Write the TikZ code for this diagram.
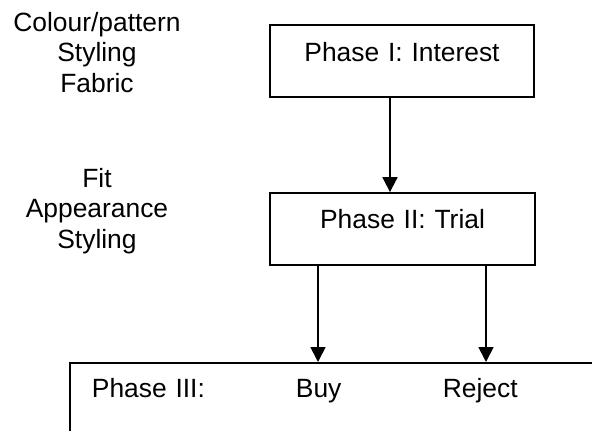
\documentclass[tikz,border=0pt]{standalone}
\usepackage{fontspec}
\setmainfont{Liberation Sans}
\usetikzlibrary{arrows.meta}
\begin{document}
\begin{tikzpicture}[x=1pt,y=-1pt,
  every node/.style={font=\fontsize{26.4}{30.5}\selectfont, inner sep=0pt},
  phasebox/.style={draw, line width=1.8pt, text width=#1, align=center},
  factors/.style={align=center, anchor=north},
  arr/.style={line width=1.8pt, -{Triangle[length=15pt,width=15pt]}}]
\useasboundingbox (0,0) rectangle (592,431);
\clip (0,0) rectangle (592,431);
% phase boxes
\node[phasebox=264pt, text height=36pt, text depth=36pt, anchor=base] (b1) at (402,61) {Phase I: Interest};
\node[phasebox=265pt, text height=35pt, text depth=37pt, anchor=base] (b2) at (402.5,228) {Phase II: Trial};
\node[draw, line width=1.8pt, text width=580pt, align=left, text height=35pt, text depth=80pt, anchor=north west] (b3) at (69,362)
  {\hspace*{22pt}\makebox[204pt][l]{Phase III:}\makebox[147pt][l]{Buy}Reject};
% factors
\node[factors] (f1) at (97,11.7) {Colour/pattern\\Styling\\Fabric};
\node[factors] (f2) at (97,168) {Fit\\Appearance\\Styling};
% connectors
\coordinate (xa) at (390,0);
\coordinate (xb) at (318,0);
\coordinate (xc) at (486,0);
\draw[arr] (b1.south -| xa) -- (b2.north -| xa);
\draw[arr] (b2.south -| xb) -- (b3.north -| xb);
\draw[arr] (b2.south -| xc) -- (b3.north -| xc);
\end{tikzpicture}
\end{document}
